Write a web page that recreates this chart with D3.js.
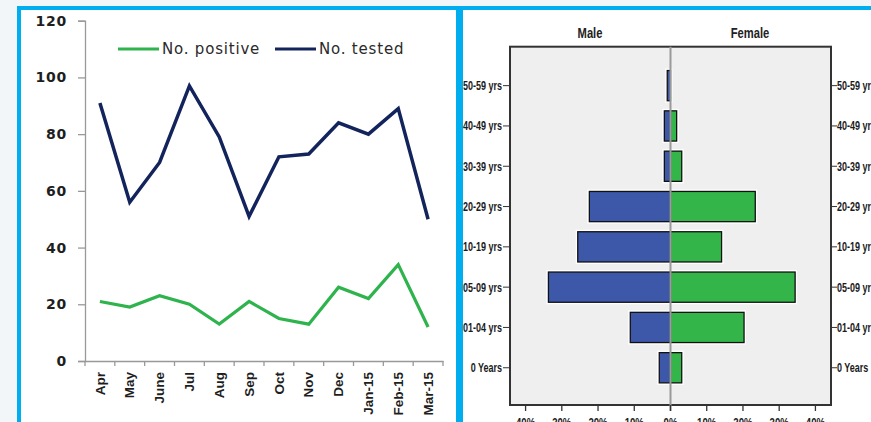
<!DOCTYPE html>
<html>
<head>
<meta charset="utf-8">
<script src="https://cdn.jsdelivr.net/npm/d3@7/dist/d3.min.js"></script>
<style>
  html, body { margin: 0; padding: 0; background: #f3f6f9; }
  svg { display: block; }
</style>
</head>
<body>
<svg id="chart" width="871" height="422"></svg>
<script>
// Monthly testing figures
const months = ["Apr", "May", "June", "Jul", "Aug", "Sep", "Oct", "Nov", "Dec", "Jan-15", "Feb-15", "Mar-15"];
const noPositive = [21, 19, 23, 20, 13, 21, 15, 13, 26, 22, 34, 12];
const noTested = [91, 56, 70, 97, 79, 51, 72, 73, 84, 80, 89, 50];
const countTicks = [0, 20, 40, 60, 80, 100, 120];

// Age/sex distribution (percent)
const ageGroups = ["50-59 yrs", "40-49 yrs", "30-39 yrs", "20-29 yrs", "10-19 yrs", "05-09 yrs", "01-04 yrs", "0 Years"];
const malePct = [0.9, 1.7, 1.7, 22.4, 25.6, 33.7, 11.1, 3.1];
const femalePct = [0, 1.7, 3.1, 23.4, 14.1, 34.4, 20.3, 3.1];
const pctTicks = [-40, -30, -20, -10, 0, 10, 20, 30, 40];

const svg = d3.select("#chart");
const cyan = "#00aeef";

// Panels
svg.append("rect").attr("x", 17).attr("y", 6).attr("width", 860).attr("height", 430).attr("fill", cyan);
svg.append("rect").attr("x", 21).attr("y", 10).attr("width", 435).attr("height", 420).attr("fill", "#fff");
svg.append("rect").attr("x", 463).attr("y", 10).attr("width", 420).attr("height", 420).attr("fill", "#fff");

// ---------- Line chart ----------
const left = svg.append("g");
const x = d3.scaleBand().domain(months).range([85, 443]);
const y = d3.scaleLinear().domain([0, 120]).range([361, 20.7]);

const yAxis = left.append("g").attr("transform", "translate(85,0)")
  .call(d3.axisLeft(y).tickValues(countTicks).tickSize(7).tickSizeOuter(7).tickPadding(11));
yAxis.select(".domain").attr("stroke", "#999").attr("stroke-width", 1.3);
yAxis.selectAll(".tick line").attr("stroke", "#999").attr("stroke-width", 1.3);
yAxis.selectAll(".tick text")
  .attr("font-family", "DejaVu Sans, Verdana, sans-serif")
  .attr("font-size", 14).attr("font-weight", "bold").attr("letter-spacing", 0.8)
  .attr("fill", "#1e1e1e");

const xAxis = left.append("g").attr("transform", "translate(0,361)")
  .call(d3.axisBottom(x).tickSize(0).tickSizeOuter(0).tickFormat(""));
xAxis.select(".domain").attr("stroke", "#999").attr("stroke-width", 1.3);
const bounds = months.map(m => x(m)).concat([x.range()[1]]);
left.selectAll(".xb").data(bounds).join("line")
  .attr("x1", d => d).attr("x2", d => d).attr("y1", 361).attr("y2", 366)
  .attr("stroke", "#999").attr("stroke-width", 1.3);
left.selectAll(".xl").data(months).join("text")
  .attr("transform", d => `translate(${x(d) + x.bandwidth() / 2},372) rotate(-90)`)
  .attr("text-anchor", "end").attr("dy", "0.35em")
  .attr("font-family", "Liberation Sans, Arial, sans-serif")
  .attr("font-size", 13.5).attr("font-weight", "bold").attr("fill", "#1e1e1e")
  .text(d => d);

const line = d3.line().x((d, i) => x(months[i]) + x.bandwidth() / 2).y(d => y(d));
left.append("path").datum(noTested).attr("d", line)
  .attr("fill", "none").attr("stroke", "#13245c").attr("stroke-width", 3.5);
left.append("path").datum(noPositive).attr("d", line)
  .attr("fill", "none").attr("stroke", "#2eb34d").attr("stroke-width", 3.2);

// Legend
const legend = [
  { label: "No. positive", color: "#2eb34d", x0: 118 },
  { label: "No. tested", color: "#13245c", x0: 275 }
];
const lg = left.selectAll(".lg").data(legend).join("g");
lg.append("line").attr("x1", d => d.x0).attr("x2", d => d.x0 + 41).attr("y1", 49).attr("y2", 49)
  .attr("stroke", d => d.color).attr("stroke-width", 3.2);
lg.append("text").attr("x", d => d.x0 + 44).attr("y", 49).attr("dy", "0.36em")
  .attr("font-family", "DejaVu Sans, Verdana, sans-serif").attr("font-size", 15)
  .attr("letter-spacing", 0.8).attr("fill", "#2a2a2a").text(d => d.label);

// ---------- Population pyramid ----------
const right = svg.append("g");
const px = d3.scaleLinear().domain([-44.3, 44.3]).range([510, 831]);
const py = d3.scaleBand().domain(ageGroups).range([65.5, 387.9]).paddingInner(0.25).paddingOuter(0.125);
const plotTop = 46.7, plotBottom = 405;

right.append("rect").attr("x", px.range()[0]).attr("y", plotTop)
  .attr("width", px.range()[1] - px.range()[0]).attr("height", plotBottom - plotTop)
  .attr("fill", "#efefef").attr("stroke", "#333").attr("stroke-width", 2);

const bars = [];
ageGroups.forEach((g, i) => {
  if (malePct[i] > 0) bars.push({ g, v: -malePct[i], color: "#3d57a9" });
  if (femalePct[i] > 0) bars.push({ g, v: femalePct[i], color: "#33b54a" });
});
const barRect = sel => sel
  .attr("x", d => Math.min(px(0), px(d.v)))
  .attr("width", d => Math.abs(px(d.v) - px(0)))
  .attr("y", d => py(d.g)).attr("height", py.bandwidth());
right.selectAll(".halo").data(bars).join("rect").call(barRect)
  .attr("fill", "none").attr("stroke", "#fff").attr("stroke-width", 4);
right.selectAll(".bar").data(bars).join("rect").call(barRect)
  .attr("fill", d => d.color).attr("stroke", "#111").attr("stroke-width", 1.3);

// Zero line
right.append("line").attr("x1", px(0)).attr("x2", px(0)).attr("y1", plotTop).attr("y2", plotBottom + 6)
  .attr("stroke", "#9a9a9a").attr("stroke-width", 2);

// Age axes on both sides
const narrow = "Liberation Sans, Arial, sans-serif";
ageGroups.forEach(g => {
  const cy = py(g) + py.bandwidth() / 2;
  right.append("line").attr("x1", 503).attr("x2", 510).attr("y1", cy).attr("y2", cy).attr("stroke", "#333");
  right.append("line").attr("x1", 831).attr("x2", 837).attr("y1", cy).attr("y2", cy).attr("stroke", "#333");
  right.append("text").attr("transform", `translate(502,${cy}) scale(0.72,1)`)
    .attr("text-anchor", "end").attr("dy", "0.35em").attr("font-weight", "bold")
    .attr("font-family", narrow).attr("font-size", 12.5).attr("fill", "#1a1a1a").text(g);
  right.append("text").attr("transform", `translate(837,${cy}) scale(0.72,1)`)
    .attr("text-anchor", "start").attr("dy", "0.35em").attr("font-weight", "bold")
    .attr("font-family", narrow).attr("font-size", 12.5).attr("fill", "#1a1a1a").text(g);
});

// Percent axis
pctTicks.forEach(t => {
  right.append("line").attr("x1", px(t)).attr("x2", px(t)).attr("y1", plotBottom).attr("y2", plotBottom + 6)
    .attr("stroke", "#333").attr("stroke-width", 1.3);
  right.append("text").attr("transform", `translate(${px(t)},427) scale(0.8,1)`)
    .attr("text-anchor", "middle").attr("font-family", narrow).attr("font-size", 12)
    .attr("font-weight", "bold").attr("fill", "#222").text(Math.abs(t) + "%");
});

// Side titles
[["Male", 590], ["Female", 750]].forEach(([t, cx]) => {
  right.append("text").attr("transform", `translate(${cx},38) scale(0.8,1)`)
    .attr("text-anchor", "middle").attr("font-family", narrow).attr("font-size", 14)
    .attr("font-weight", "bold").attr("fill", "#222").text(t);
});
</script>
</body>
</html>
